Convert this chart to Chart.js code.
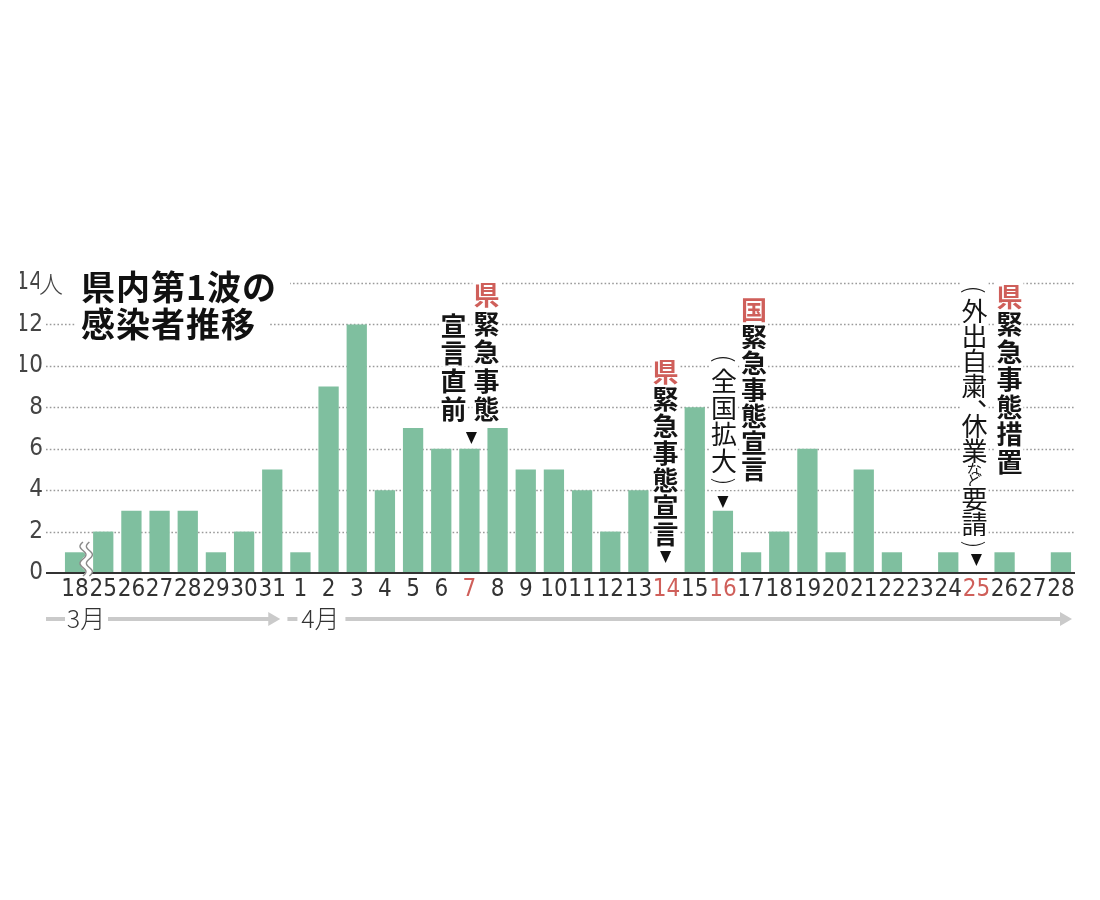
<!DOCTYPE html>
<html><head><meta charset="utf-8">
<script src="https://cdn.jsdelivr.net/npm/chart.js@4.4.1/dist/chart.umd.min.js"></script>
<style>html,body{margin:0;padding:0;background:#fff}canvas{display:block}</style>
</head><body>
<canvas id="c" width="1100" height="900"></canvas>
<script>
// ---------- data ----------
const marchDays  = [18, 25, 26, 27, 28, 29, 30, 31];
const marchCases = [1, 2, 3, 3, 3, 1, 2, 5];
const aprilDays  = [1,2,3,4,5,6,7,8,9,10,11,12,13,14,15,16,17,18,19,20,21,22,23,24,25,26,27,28];
const aprilCases = [1,9,12,4,7,6,6,7,5,5,4,2,4,0,8,3,1,2,6,1,5,1,0,1,0,1,0,1];
const highlightAprilDays = [7, 14, 16, 25];
const yTicks = [0, 2, 4, 6, 8, 10, 12, 14];
const yUnit = '人';
const monthNames = ['3月', '4月'];
const titleLines = ['県内第1波の', '感染者推移'];

const categories = marchDays.map(String).concat(aprilDays.map(String));
const cases = marchCases.concat(aprilCases);
const highlighted = categories.map((c, i) => i >= marchDays.length && highlightAprilDays.includes(aprilDays[i - marchDays.length]));
const aprIdx = d => marchDays.length + aprilDays.indexOf(d);

// annotation texts (vertical)
const annotations = [
  { day: 7,  cols: [
      { text: '県緊急事態', red: [0], dx: 17,  top: 280, pitch: 28.5, weight: 700 },
      { text: '宣言直前',   red: [],  dx: -16, top: 311, pitch: 27.7, weight: 700 } ],
    tri: { dx: 2, top: 432 } },
  { day: 14, cols: [
      { text: '県緊急事態宣言', red: [0], dx: -1, top: 358, pitch: 27, weight: 700 } ],
    tri: { dx: -1, top: 551 } },
  { day: 16, cols: [
      { text: '国緊急事態宣言', red: [0], dx: 31, top: 296, pitch: 26.5, weight: 700 },
      { text: '（全国拡大）',   red: [],  dx: 1,  top: 350, pitch: 26.5, weight: 400 } ],
    tri: { dx: 0, top: 496 } },
  { day: 25, cols: [
      { text: '県緊急事態措置', red: [0], dx: 33, top: 282, pitch: 27.5, weight: 700 },
      { text: '（外出自粛、休業など要請）', red: [], dx: -2, top: 281, pitch: 25, weight: 400, smallKana: true } ],
    tri: { dx: 0, top: 554 } }
];

const RED = '#cf5f5a';
const CJK = '"Noto Sans CJK JP", "Noto Sans CJK SC", sans-serif';
const NUM = '"Liberation Sans Narrow", "DejaVu Sans Condensed", Roboto, sans-serif';
const BAR = '#7fbf9f';

function vText(ctx, x, top, col) {
  let y = top;
  const size = 26;
  for (let i = 0; i < col.text.length; i++) {
    const ch = col.text[i];
    const small = col.smallKana && 'など'.includes(ch);
    const paren = ch === '（' || ch === '）';
    const comma = ch === '、';
    let p = col.pitch, s = size;
    if (small) { s = size * 0.6; p = col.pitch * 0.46; }
    if (paren) { p = 17; }
    if (comma) { p = 15; }
    const cy = y + p / 2;
    ctx.save();
    ctx.fillStyle = '#fff';
    ctx.fillRect(x - 14, y, 28, p);
    ctx.fillStyle = col.red.includes(i) ? RED : '#151515';
    ctx.textAlign = 'center';
    ctx.textBaseline = 'middle';
    if (paren) {
      ctx.translate(x, cy);
      ctx.rotate(Math.PI / 2);
      ctx.font = `300 24px ${CJK}`;
      ctx.fillText(ch === '（' ? '(' : ')', 0, -1);
    } else if (comma) {
      ctx.font = `${col.weight} ${s}px ${CJK}`;
      ctx.fillText('、', x + s * 0.6, cy - s * 0.35);
    } else {
      ctx.font = `${col.weight} ${s}px ${CJK}`;
      ctx.fillText(ch, x, cy + 1);
    }
    ctx.restore();
    y += p;
  }
}

function triangle(ctx, x, top) {
  ctx.save();
  ctx.fillStyle = '#111';
  ctx.beginPath();
  ctx.moveTo(x - 5.5, top);
  ctx.lineTo(x + 5.5, top);
  ctx.lineTo(x, top + 12);
  ctx.closePath();
  ctx.fill();
  ctx.restore();
}

const decor = {
  id: 'decor',
  beforeDatasetsDraw(chart) {
    const { ctx, chartArea, scales: { y } } = chart;
    ctx.save();
    ctx.strokeStyle = '#9a9a9a';
    ctx.lineWidth = 1.6;
    ctx.setLineDash([1.6, 2.2]);
    yTicks.forEach(v => {
      if (v === 0) return;
      const py = Math.round(y.getPixelForValue(v)) + 0.5;
      ctx.beginPath();
      ctx.moveTo(46, py);
      ctx.lineTo(chartArea.right, py);
      ctx.stroke();
    });
    ctx.restore();
  },
  afterDatasetsDraw(chart) {
    const { ctx, chartArea, scales: { x, y } } = chart;
    const y0 = y.getPixelForValue(0);
    ctx.save();
    ctx.strokeStyle = '#333';
    ctx.lineWidth = 2;
    ctx.beginPath();
    ctx.moveTo(46, y0); ctx.lineTo(chartArea.right, y0);
    ctx.stroke();
    ctx.restore();

    // break symbol
    const bx = (x.getPixelForValue(0) + x.getPixelForValue(1)) / 2 - 3;
    const wave = (off) => {
      ctx.beginPath();
      for (let t = 0; t <= 34; t += 1) {
        const py = y0 + 3 - t;
        const px = bx + off + 3 * Math.sin(t / 34 * Math.PI * 4);
        if (t === 0) ctx.moveTo(px, py); else ctx.lineTo(px, py);
      }
      ctx.stroke();
    };
    ctx.save();
    ctx.strokeStyle = '#fff'; ctx.lineWidth = 6; wave(0);
    ctx.strokeStyle = '#8a8a8a'; ctx.lineWidth = 1.4; wave(-3.2); wave(3.2);
    ctx.restore();

    // 人 unit next to top tick
    const y14 = y.getPixelForValue(yTicks[yTicks.length - 1]);
    ctx.save();
    ctx.fillStyle = '#fff';
    ctx.fillRect(39, y14 - 14, 36, 28);
    ctx.fillStyle = '#444';
    ctx.font = `300 24px ${CJK}`;
    ctx.textAlign = 'left';
    ctx.textBaseline = 'middle';
    ctx.fillText(yUnit, 39, y14 + 1);
    ctx.restore();

    // title
    ctx.save();
    ctx.fillStyle = '#fff';
    ctx.fillRect(76, y14 - 16, 214, 34);
    ctx.fillRect(76, y.getPixelForValue(12) - 18, 192, 36);
    ctx.fillStyle = '#111';
    ctx.font = `700 34px ${CJK}`;
    ctx.letterSpacing = '1px';
    ctx.textAlign = 'left';
    ctx.textBaseline = 'middle';
    ctx.fillText(titleLines[0], 81, 287);
    ctx.fillText(titleLines[1], 81, 324);
    ctx.restore();

    // annotations
    annotations.forEach(a => {
      const px = x.getPixelForValue(aprIdx(a.day));
      a.cols.forEach(c => vText(ctx, px + c.dx, c.top, c));
      triangle(ctx, px + a.tri.dx, a.tri.top);
    });

    // month arrows
    const my = 619;
    const drawArrow = (x1, x2) => {
      ctx.strokeStyle = '#cacaca';
      ctx.lineWidth = 4;
      ctx.beginPath(); ctx.moveTo(x1, my); ctx.lineTo(x2 - 10, my); ctx.stroke();
      ctx.fillStyle = '#cacaca';
      ctx.beginPath();
      ctx.moveTo(x2 - 12, my - 7); ctx.lineTo(x2, my); ctx.lineTo(x2 - 12, my + 7);
      ctx.closePath(); ctx.fill();
    };
    ctx.save();
    const mStart = 46;
    const mEnd = x.getPixelForValue(marchDays.length - 1) + 8;
    const aStart = x.getPixelForValue(marchDays.length) - 13;
    const aEnd = chartArea.right - 3;
    ctx.strokeStyle = '#cacaca'; ctx.lineWidth = 4;
    ctx.beginPath(); ctx.moveTo(mStart, my); ctx.lineTo(mStart + 19, my); ctx.stroke();
    drawArrow(mStart + 62, mEnd);
    ctx.beginPath(); ctx.moveTo(aStart, my); ctx.lineTo(aStart + 10, my); ctx.stroke();
    drawArrow(aStart + 58, aEnd);
    ctx.fillStyle = '#333';
    ctx.font = `300 25px ${CJK}`;
    ctx.textAlign = 'center';
    ctx.textBaseline = 'middle';
    ctx.fillText(monthNames[0], mStart + 40, my - 1);
    ctx.fillText(monthNames[1], aStart + 33, my - 1);
    ctx.restore();
  }
};

new Chart(document.getElementById('c'), {
  type: 'bar',
  data: {
    labels: categories,
    datasets: [{ data: cases, backgroundColor: BAR, borderWidth: 0, barPercentage: 0.72, categoryPercentage: 1 }]
  },
  options: {
    responsive: false,
    animation: false,
    devicePixelRatio: 1,
    layout: { padding: { left: 20, right: 25, top: 283, bottom: 295 } },
    plugins: { legend: { display: false }, tooltip: { enabled: false }, title: { display: false } },
    scales: {
      x: {
        grid: { display: false, drawTicks: false },
        border: { display: false },
        afterFit(s) { s.height = 32; },
        ticks: {
          autoSkip: false, maxRotation: 0, padding: 2,
          font: { family: NUM, size: 24 },
          color: c => highlighted[c.index] ? RED : '#333'
        }
      },
      y: {
        min: 0, max: 14,
        grid: { display: false, drawTicks: false },
        border: { display: false },
        afterFit(s) { s.width = 41; },
        afterBuildTicks(s) { s.ticks = yTicks.map(v => ({ value: v })); },
        ticks: {
          padding: 18,
          font: { family: NUM, size: 24 },
          color: '#444'
        }
      }
    }
  },
  plugins: [decor]
});
</script>
</body></html>
